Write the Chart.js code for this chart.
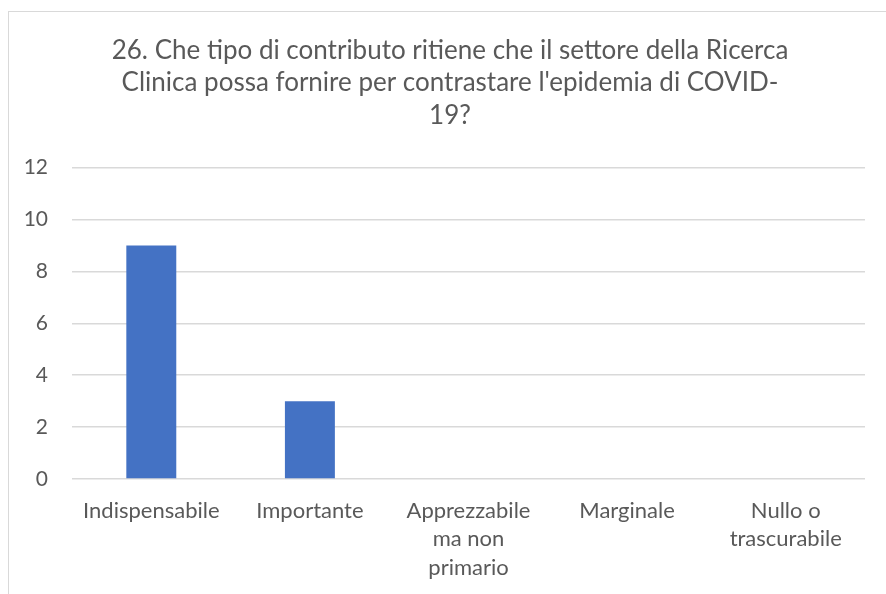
<!DOCTYPE html>
<html>
<head>
<meta charset="utf-8">
<script src="https://cdn.jsdelivr.net/npm/chart.js@4"></script>
<style>
  body { margin: 0; background: #fff; overflow: hidden; }
  #frame { position: absolute; left: 8px; top: 11px; width: 900px; height: 600px;
           border-left: 1px solid #d9d9d9; border-top: 1px solid #d9d9d9; }
  #wrap { position: absolute; left: 0; top: 0; width: 886px; height: 594px; }
</style>
</head>
<body>
<div id="frame"></div>
<div id="wrap"><canvas id="chart"></canvas></div>
<script>
// Title, split as in the picture
let titleLines = ["26. Che tipo di contributo ritiene che il settore della Ricerca", "Clinica possa fornire per contrastare l'epidemia di COVID-", "19?"];

// Answer categories (wrapped)
let categories = ["Indispensabile", "Importante", ["Apprezzabile", "ma non", "primario"], "Marginale", ["Nullo o", "trascurabile"]];

// Number of answers per category
let answers = [9, 3, 0, 0, 0];

// Y axis range
let yMax = 12;
let yStep = 2;

let textColour = "#595959";
let fontName = "Lato, 'Open Sans', sans-serif";

// the title in the picture is centred on the chart box, not the canvas
const shiftTitle = {
    id: "shiftTitle",
    afterLayout(chart) {
        chart.titleBlock.left += 35;
    }
};

new Chart("chart", {
    type: "bar",
    data: {
        labels: categories,
        datasets: [{
            data: answers,
            backgroundColor: "#4472C4",
            barPercentage: 0.63,
            categoryPercentage: 0.5
        }]
    },
    options: {
        responsive: true,
        maintainAspectRatio: false,
        animation: false,
        layout: { padding: { left: 0, right: 21, top: 0, bottom: 0 } },
        plugins: {
            legend: { display: false },
            tooltip: { enabled: false },
            title: {
                display: true,
                text: titleLines,
                color: textColour,
                font: { family: fontName, size: 26, weight: "normal", lineHeight: 1.25 },
                padding: { top: 34, bottom: 36 }
            }
        },
        scales: {
            x: {
                grid: { display: false },
                border: { display: false },
                ticks: {
                    color: textColour,
                    font: { family: fontName, size: 22, lineHeight: 1.29 },
                    padding: 9.5,
                    maxRotation: 0,
                    autoSkip: false
                },
                afterFit: function (scale) { scale.height = 115; }
            },
            y: {
                min: 0,
                max: yMax,
                grid: { color: "#d9d9d9", lineWidth: 1.5, drawTicks: false },
                border: { display: false },
                ticks: {
                    stepSize: yStep,
                    color: textColour,
                    font: { family: fontName, size: 21 },
                    padding: 24
                },
                afterFit: function (scale) { scale.width = 72; }
            }
        }
    },
    plugins: [shiftTitle]
});
</script>
</body>
</html>
